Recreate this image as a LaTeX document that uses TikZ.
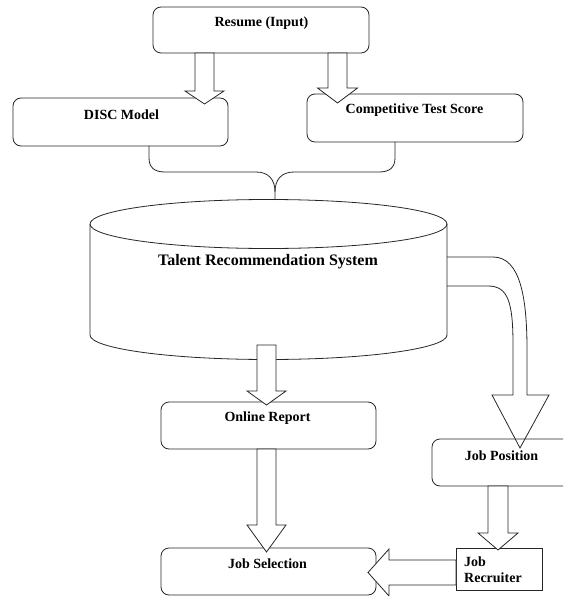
\documentclass[tikz,border=0pt]{standalone}
\usepackage{fontspec}
\setmainfont{Liberation Serif}
\usetikzlibrary{calc}
\tikzset{
  ln/.style={draw=black!85, line width=0.8pt},
  rbox/.style={ln, rounded corners=8pt, inner sep=0pt, outer sep=0pt},
  sbox/.style={ln, inner sep=0pt, outer sep=0pt},
  lbl/.style={font=\fontsize{14}{16}\selectfont\bfseries, inner sep=0pt},
  blk/.style={ln, fill=white, line join=miter},
}
% down block arrow: #1 start (gives top y), #2 tip, #3 shaft half width, #4 head half width, #5 head length
\newcommand\dblk[5]{\draw[blk] let \p1=#1, \p2=#2 in (\x2-#3,\y1) -- (\x2-#3,\y2+#5) -- (\x2-#4,\y2+#5) -- (\x2,\y2) -- (\x2+#4,\y2+#5) -- (\x2+#3,\y2+#5) -- (\x2+#3,\y1) -- cycle;}
% left block arrow: #1 start (gives right x), #2 tip
\newcommand\lblk[5]{\draw[blk] let \p1=#1, \p2=#2 in (\x1,\y2+#3) -- (\x2+#5,\y2+#3) -- (\x2+#5,\y2+#4) -- (\x2,\y2) -- (\x2+#5,\y2-#4) -- (\x2+#5,\y2-#3) -- (\x1,\y2-#3) -- cycle;}
\begin{document}
\begin{tikzpicture}[x=1pt,y=-1pt]
\useasboundingbox (0,0) rectangle (563,596);
\clip (0,0) rectangle (563,596);

% boxes
\node[rbox, minimum width=216pt, minimum height=46pt] (resume) at (261,30) {};
\node[rbox, minimum width=215pt, minimum height=48pt] (disc) at (120.5,122) {};
\node[rbox, minimum width=216pt, minimum height=48pt] (cts) at (415,118) {};
\node[rbox, minimum width=215pt, minimum height=47pt] (online) at (268.5,425.5) {};
\node[rbox, minimum width=215pt, minimum height=47pt] (jobsel) at (268.5,571.5) {};
\node[rbox, minimum width=148pt, minimum height=47pt] (jobpos) at (506,462.5) {};
\node[sbox, minimum width=86pt, minimum height=42pt] (recruit) at (499,569) {};

% cylinder
\node[inner sep=0pt, minimum width=357pt, minimum height=160pt] (sys) at (268.5,279) {};
\draw[ln] (268.5,224) ellipse [x radius=178.5, y radius=24.5];
\draw[ln] (90,224) -- (90,335) arc[start angle=180, end angle=0, x radius=178.5, y radius=24.5] -- (447,224);

% brace from DISC and Competitive Test Score into the system
\coordinate (bl) at (149,0);
\coordinate (br) at (395,0);
\coordinate (bmid) at (275,200);
\draw[ln] (disc.south -| bl) -- (149,158) .. controls (149,168) and (155,172) .. (165,172) -- (256,172) .. controls (269,172) and (275,180) .. (275,192) -- (bmid);
\draw[ln] (cts.south -| br) -- (395,158) .. controls (395,168) and (389,172) .. (379,172) -- (294,172) .. controls (281,172) and (275,180) .. (275,192);

% arrow tips
\coordinate (t1) at (204.5,104);
\coordinate (t2) at (337.5,103);
\coordinate (s3) at (266.5,345);
\coordinate (t3) at (266.5,405);
\coordinate (t4) at (266.5,552);
\coordinate (t5) at (498,550);
\coordinate (t6) at (368,572.5);

\dblk{(resume.south)}{(t1)}{9.5pt}{19.5pt}{13pt}
\dblk{(resume.south)}{(t2)}{9.5pt}{20pt}{15pt}
\dblk{(s3)}{(t3)}{9.5pt}{19.5pt}{14pt}
\dblk{(online.south)}{(t4)}{9.5pt}{19.5pt}{27pt}
\dblk{(jobpos.south)}{(t5)}{10pt}{20pt}{17pt}
\lblk{(recruit.west)}{(t6)}{12.5pt}{23.5pt}{21pt}

% curved block arrow from the system to Job Position
\draw[ln, line join=miter] (sys.east |- 0,257) -- (493,257) .. controls (521,257) and (527,300) .. (527,350) -- (527,395) -- (549,395) -- (520,448) -- (492,395) -- (513,395) -- (513,345) .. controls (513,302) and (508,286) .. (488,286) -- (sys.east |- 0,286);

% texts
\node[lbl] (resumeT) at (261.5,23) {Resume (Input)};
\node[lbl] (discT) at (121.5,115) {DISC Model};
\node[lbl] (ctsT) at (414.5,110) {Competitive Test Score};
\node[lbl, font=\fontsize{16}{18}\selectfont\bfseries] (sysT) at (268,262) {Talent Recommendation System};
\node[lbl] (onlineT) at (267.5,418.5) {Online Report};
\node[lbl] (jobselT) at (267.5,564) {Job Selection};
\node[lbl] (jobposT) at (501.5,456) {Job Position};
\node[lbl, align=left, anchor=west] (recruitT) at (464,570) {Job\\Recruiter};
\end{tikzpicture}
\end{document}
